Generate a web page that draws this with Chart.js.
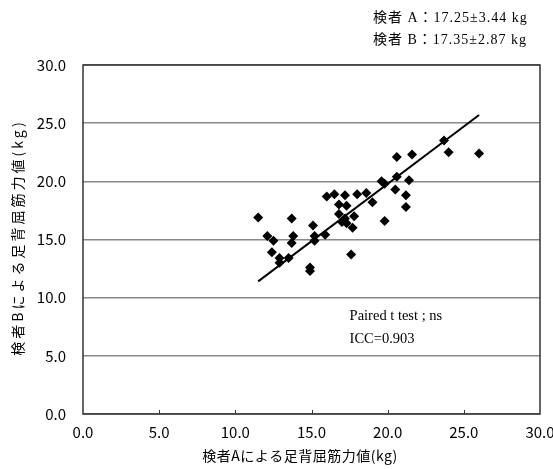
<!DOCTYPE html>
<html>
<head>
<meta charset="utf-8">
<script src="https://cdn.jsdelivr.net/npm/chart.js@4.4.1/dist/chart.umd.min.js"></script>
<style>
    html, body { margin: 0; padding: 0; background: #fff; }
    #wrap { width: 553px; height: 469px; position: relative; }
</style>
</head>
<body>
<div id="wrap"><canvas id="chart"></canvas></div>
<script>
// ==================== DATA ====================
// 検者A / 検者B の足背屈筋力値 (kg)
const examinerA = [
    11.5, 12.1, 12.5, 12.4, 12.9, 12.9, 13.5, 13.7, 13.8, 13.7,
    14.9, 14.9, 15.1, 15.2, 15.2, 15.9, 16.0, 16.5, 16.8, 16.8,
    17.2, 17.3, 17.0, 17.2, 17.3, 17.8, 17.7, 17.6, 18.0, 18.6,
    19.0, 19.6, 19.8, 19.8, 20.6, 21.6, 20.6, 21.4, 20.5, 21.2,
    21.2, 23.7, 24.0, 26.0
];
const examinerB = [
    16.9, 15.3, 14.9, 13.9, 13.4, 13.0, 13.4, 16.8, 15.3, 14.7,
    12.6, 12.3, 16.2, 15.3, 14.9, 15.4, 18.7, 18.9, 18.0, 17.2,
    18.8, 17.9, 16.5, 16.8, 16.4, 17.0, 16.0, 13.7, 18.9, 19.0,
    18.2, 20.0, 19.8, 16.6, 22.1, 22.3, 20.4, 20.1, 19.3, 18.8,
    17.8, 23.5, 22.5, 22.4
];
// regression line end points
const fitX = [11.5, 26.0];
const fitY = [11.4, 25.7];

const axisMin = 0;
const axisMax = 30;
const axisStep = 5;

const xTitle = '検者Aによる足背屈筋力値(kg)';
const yTitle = '検者Bによる足背屈筋力値(kg)';
const headerLines = ['検者 A：17.25±3.44 kg', '検者 B：17.35±2.87 kg'];
const noteLines = ['Paired t test ; ns', 'ICC=0.903'];
const noteAt = { x: 17.5, y: 8.4 };

// ==================== STYLE ====================
const GOTHIC = '"Noto Sans CJK JP", "DejaVu Sans", sans-serif';
const SERIF = '"Liberation Serif", "Noto Sans CJK JP", serif';

// ==================== PLUGIN: frame + texts ====================
const extras = {
    id: 'extras',
    afterDraw(chart) {
        const { ctx, chartArea: a, scales } = chart;
        ctx.save();

        // frame
        ctx.strokeStyle = '#333';
        ctx.lineWidth = 1.5;
        ctx.strokeRect(a.left, a.top, a.right - a.left, a.bottom - a.top);

        // inner tick marks on x axis
        ctx.lineWidth = 1;
        for (let v = axisMin + axisStep; v < axisMax; v += axisStep) {
            const px = Math.round(scales.x.getPixelForValue(v)) + 0.5;
            ctx.beginPath();
            ctx.moveTo(px, a.bottom);
            ctx.lineTo(px, a.bottom - 4);
            ctx.stroke();
        }

        ctx.fillStyle = '#000';
        ctx.textBaseline = 'middle';

        // x title
        ctx.font = '14px ' + GOTHIC;
        ctx.letterSpacing = '0.5px';
        ctx.textAlign = 'center';
        ctx.fillText(xTitle, 300, 456);

        // y title, rotated, letter-spaced
        ctx.save();
        ctx.translate(18, (a.top + a.bottom) / 2 - 2);
        ctx.rotate(-Math.PI / 2);
        ctx.font = '14px ' + GOTHIC;
        ctx.letterSpacing = '3px';
        ctx.textAlign = 'center';
        ctx.fillText(yTitle, 0, 0);
        ctx.restore();

        // header (mean ± SD)
        ctx.font = '14px ' + SERIF;
        ctx.letterSpacing = '1px';
        ctx.textAlign = 'left';
        headerLines.forEach((t, i) => ctx.fillText(t, 373, 18 + i * 22));

        // note inside plot
        ctx.font = '14.5px ' + SERIF;
        ctx.letterSpacing = '0px';
        const nx = scales.x.getPixelForValue(noteAt.x);
        const ny = scales.y.getPixelForValue(noteAt.y);
        noteLines.forEach((t, i) => ctx.fillText(t, nx, ny + i * 23));

        ctx.restore();
    }
};

// ==================== CHART ====================
const ctx = document.getElementById('chart').getContext('2d');
const chart = new Chart(ctx, {
    type: 'scatter',
    data: {
        datasets: [
            {
                label: 'fit',
                type: 'line',
                data: fitX.map((x, i) => ({ x, y: fitY[i] })),
                borderColor: '#000',
                borderWidth: 2,
                pointRadius: 0,
                fill: false,
                order: 2
            },
            {
                label: 'AB',
                data: examinerA.map((x, i) => ({ x, y: examinerB[i] })),
                pointStyle: 'rectRot',
                pointRadius: 5,
                backgroundColor: '#000',
                borderColor: '#000',
                borderWidth: 0,
                order: 1
            }
        ]
    },
    options: {
        responsive: true,
        maintainAspectRatio: false,
        animation: false,
        devicePixelRatio: 1,
        layout: { padding: { top: 65, right: 13, left: 0, bottom: 4 } },
        plugins: {
            legend: { display: false },
            tooltip: { enabled: false }
        },
        scales: {
            x: {
                type: 'linear',
                min: axisMin,
                max: axisMax,
                afterFit: s => {
                    s.height = 51;
                    s.paddingLeft = 0;
                    s.paddingRight = 0;
                },
                ticks: {
                    stepSize: axisStep,
                    padding: 9,
                    color: '#000',
                    font: { family: GOTHIC, size: 15 },
                    callback: v => v.toFixed(1)
                },
                grid: { display: false, drawTicks: false },
                border: { display: false },
                title: { display: false }
            },
            y: {
                type: 'linear',
                min: axisMin,
                max: axisMax,
                afterFit: s => {
                    s.width = 83;
                    s.paddingTop = 0;
                    s.paddingBottom = 0;
                },
                ticks: {
                    stepSize: axisStep,
                    padding: 17,
                    color: '#000',
                    font: { family: GOTHIC, size: 15 },
                    callback: v => v.toFixed(1)
                },
                grid: { color: '#888', lineWidth: 1.5, drawTicks: false },
                border: { display: false },
                title: { display: false }
            }
        }
    },
    plugins: [extras]
});
</script>
</body>
</html>
